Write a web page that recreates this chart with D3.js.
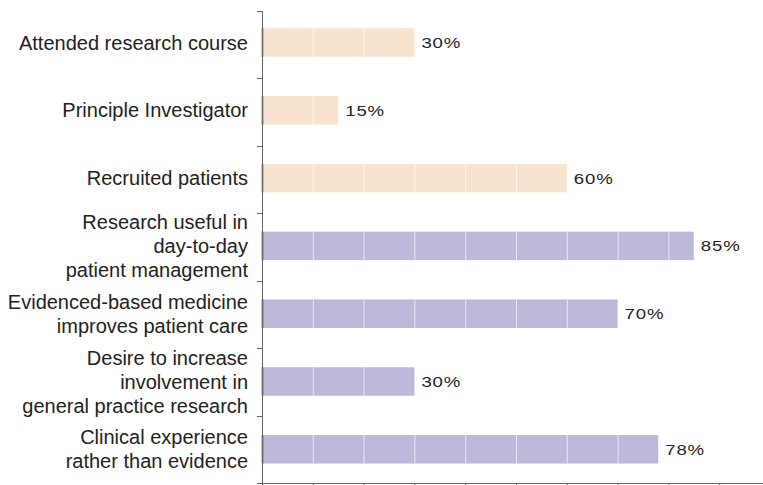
<!DOCTYPE html>
<html lang="en">
<head>
    <meta charset="UTF-8">
    <title>Research attitudes</title>
    <style>
        * { margin: 0; padding: 0 }
        body { background: #fff; }
    </style>
</head>
<body>
    <div id="main"></div>
    <script src="https://d3js.org/d3.v7.min.js"></script>
    <script>
        // chart data
        const categories = [
            ['Attended research course'],
            ['Principle Investigator'],
            ['Recruited patients'],
            ['Research useful in', 'day-to-day', 'patient management'],
            ['Evidenced-based medicine', 'improves patient care'],
            ['Desire to increase', 'involvement in', 'general practice research'],
            ['Clinical experience', 'rather than evidence']
        ];
        const values = [30, 15, 60, 85, 70, 30, 78];
        const groups = ['a', 'a', 'a', 'b', 'b', 'b', 'b'];
        const xTicks = [0, 10, 20, 30, 40, 50, 60, 70, 80, 90, 100];

        const W = 763, H = 485;
        const mLeft = 262, mTop = 11, mBottom = 483;

        let svg = d3.select('#main').append('svg')
            .attr('width', W)
            .attr('height', H);

        let x = d3.scaleLinear().domain([0, 100]).range([mLeft, mLeft + 508]);
        // bars sit slightly off the tick grid in the original
        let y = d3.scaleBand().domain(d3.range(categories.length))
            .range([8.6, 483.2])
            .paddingInner(0.58)
            .paddingOuter(0.29);
        let color = d3.scaleOrdinal().domain(['a', 'b']).range(['#f8e3cf', '#bbb8da']);

        // bars
        let bars = svg.selectAll('g.bar')
            .data(values)
            .enter()
            .append('g')
            .classed('bar', true);

        bars.append('rect')
            .attr('x', x(0))
            .attr('y', (d, i) => y(i))
            .attr('width', d => x(d) - x(0))
            .attr('height', y.bandwidth())
            .style('fill', (d, i) => color(groups[i]));

        // white grid lines inside the bars
        bars.each(function (d, i) {
            d3.select(this).selectAll('line')
                .data(xTicks.filter(t => t > 0 && t < d))
                .enter()
                .append('line')
                .attr('x1', t => x(t) + 0.5)
                .attr('x2', t => x(t) + 0.5)
                .attr('y1', y(i))
                .attr('y2', y(i) + y.bandwidth())
                .style('stroke', '#ffffff')
                .style('stroke-opacity', 0.7)
                .style('stroke-width', 1);
        });

        // dark left edge of bars
        bars.append('line')
            .attr('x1', x(0) + 0.5)
            .attr('x2', x(0) + 0.5)
            .attr('y1', (d, i) => y(i))
            .attr('y2', (d, i) => y(i) + y.bandwidth())
            .style('stroke', '#333')
            .style('stroke-width', 1.5);

        // value labels (the original font is wide, so stretch it a bit)
        bars.append('text')
            .attr('transform', (d, i) => 'translate(' + (x(d) + 7) + ',' + (y(i) + y.bandwidth() / 2) + ') scale(1.2,1)')
            .attr('dy', '0.36em')
            .style('font-family', 'Liberation Sans, Arial, sans-serif')
            .style('font-size', '15.5px')
            .style('fill', '#222')
            .style('letter-spacing', '0.7px')
            .text(d => d + '%');

        // category labels
        const lineH = 24;
        svg.selectAll('text.cat')
            .data(categories)
            .enter()
            .append('text')
            .classed('cat', true)
            .attr('text-anchor', 'end')
            .style('font-family', 'Liberation Sans, Arial, sans-serif')
            .style('font-size', '20px')
            .style('fill', '#222')
            .each(function (lines, i) {
                let cy = y(i) + y.bandwidth() / 2;
                let start = cy - (lines.length - 1) * lineH / 2;
                d3.select(this).selectAll('tspan')
                    .data(lines)
                    .enter()
                    .append('tspan')
                    .attr('x', 248)
                    .attr('y', (l, k) => start + k * lineH)
                    .attr('dy', '0.35em')
                    .text(l => l);
            });

        // left axis with ticks at band boundaries
        let bounds = d3.range(categories.length + 1).map(i => mTop + i * (mBottom - mTop) / categories.length);
        svg.append('line')
            .attr('x1', mLeft + 0.5).attr('x2', mLeft + 0.5)
            .attr('y1', mTop).attr('y2', mBottom)
            .style('stroke', '#666').style('stroke-width', 1);
        svg.selectAll('line.ytick')
            .data(bounds)
            .enter()
            .append('line')
            .classed('ytick', true)
            .attr('x1', mLeft - 5).attr('x2', mLeft)
            .attr('y1', d => Math.round(d) + 0.5).attr('y2', d => Math.round(d) + 0.5)
            .style('stroke', '#666');

        // bottom axis
        let xAxis = d3.axisBottom(x).tickValues(xTicks).tickSize(4).tickFormat('');
        let gx = svg.append('g')
            .attr('transform', 'translate(0,' + mBottom + ')')
            .call(xAxis);
        gx.select('.domain').attr('stroke', '#666');
        gx.selectAll('.tick line').attr('stroke', '#666');
    </script>
</body>
</html>
